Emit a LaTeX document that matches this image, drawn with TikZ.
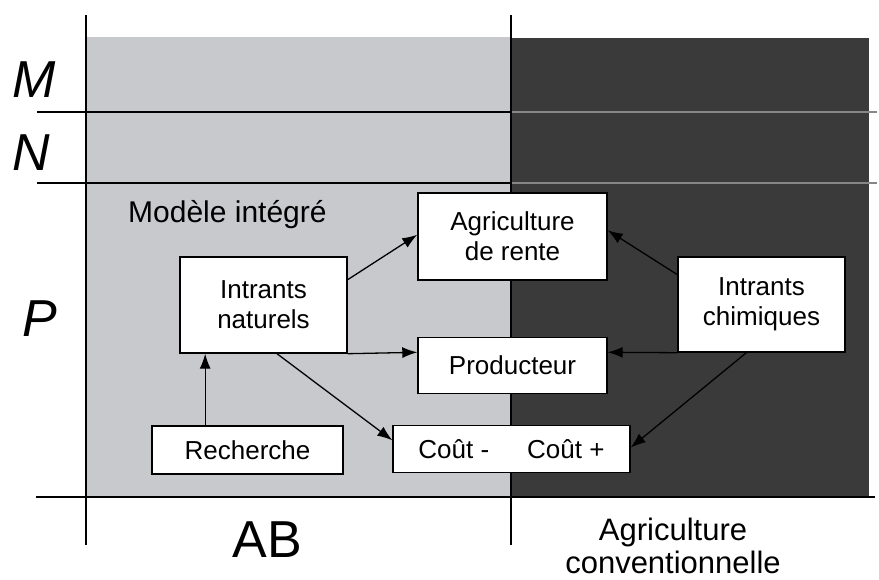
\documentclass[tikz,border=0pt]{standalone}
\usepackage{fontspec}
\setmainfont{Liberation Sans}
\usetikzlibrary{arrows.meta,calc}
\definecolor{lightzone}{RGB}{200,201,204}
\definecolor{darkzone}{RGB}{58,58,58}
\definecolor{gridondark}{RGB}{135,135,135}
\tikzset{
  box/.style={draw=black, line width=1.4pt, fill=white, inner sep=0pt,
    align=center, font=\fontsize{26}{30}\selectfont},
  flow/.style={line width=1.3pt, -{Latex[length=15pt,width=11pt]}},
  axis/.style={line width=1.4pt},
  rowlabel/.style={font=\fontsize{52}{60}\selectfont\itshape, anchor=base},
}
\begin{document}
\begin{tikzpicture}[x=1pt,y=-1pt]
\useasboundingbox (0,0) rectangle (879,579);

% two zones
\fill[lightzone] (86,37) rectangle (511,497);
\fill[darkzone] (511,38) rectangle (869,497);

% level separators
\draw[axis] (37,112) -- (511,112);
\draw[axis] (37,183) -- (511,183);
\draw[axis, gridondark] (511,112) -- (877,112);
\draw[axis, gridondark] (511,183) -- (877,183);
\draw[axis] (36,497) -- (875,497);

% vertical axes
\draw[axis] (86,15) -- (86,545);
\draw[axis] (511,15) -- (511,545);

% level and column labels
\node[rowlabel] (lm) at (34,97) {M};
\node[rowlabel] (ln) at (31,170) {N};
\node[rowlabel] (lp) at (40,336) {P};
\node[font=\fontsize{52}{60}\selectfont, anchor=base] (ab) at (267,557) {AB};
\node[font=\fontsize{31}{33}\selectfont, align=center, anchor=base] (conv) at (673,573) {Agriculture\\conventionnelle};
\node[font=\fontsize{30}{34}\selectfont, anchor=base west, inner sep=0pt] (model) at (128,222) {Modèle intégré};

% boxes
\node[box, minimum width=189pt, minimum height=87pt] (agri) at (512.5,236.5) {Agriculture\\de rente};
\node[box, minimum width=167pt, minimum height=96pt] (natur) at (263.5,305) {Intrants\\naturels};
\node[box, minimum width=189pt, minimum height=56pt] (prod) at (512.5,365.5) {Producteur};
\node[box, minimum width=167pt, minimum height=95pt] (chim) at (761.5,304.5) {Intrants\\chimiques};
\node[box, minimum width=191pt, minimum height=48pt] (rech) at (247.5,450) {Recherche};
\node[box, minimum width=237pt, minimum height=47pt] (cout) at (511.5,449) {Coût -\hspace{38pt}Coût +};

% connectors
\draw[flow] ($(natur.north east)!0.24!(natur.south east)$) -- ($(agri.north west)!0.48!(agri.south west)$);
\draw[flow] (natur.south east) -- ($(prod.north west)!0.27!(prod.south west)$);
\draw[flow] ($(natur.south west)!0.58!(natur.south east)$) -- ($(cout.north west)!0.32!(cout.south west)$);
\coordinate (rtop) at ($(rech.north west)!0.28!(rech.north east)$);
\draw[flow] (rtop) -- (rtop |- natur.south);
\draw[flow] ($(chim.north west)!0.19!(chim.south west)$) -- ($(agri.north east)!0.43!(agri.south east)$);
\draw[flow] (chim.south west) -- ($(prod.north east)!0.27!(prod.south east)$);
\draw[flow] ($(chim.south west)!0.41!(chim.south east)$) -- ($(cout.north east)!0.47!(cout.south east)$);
\end{tikzpicture}
\end{document}
